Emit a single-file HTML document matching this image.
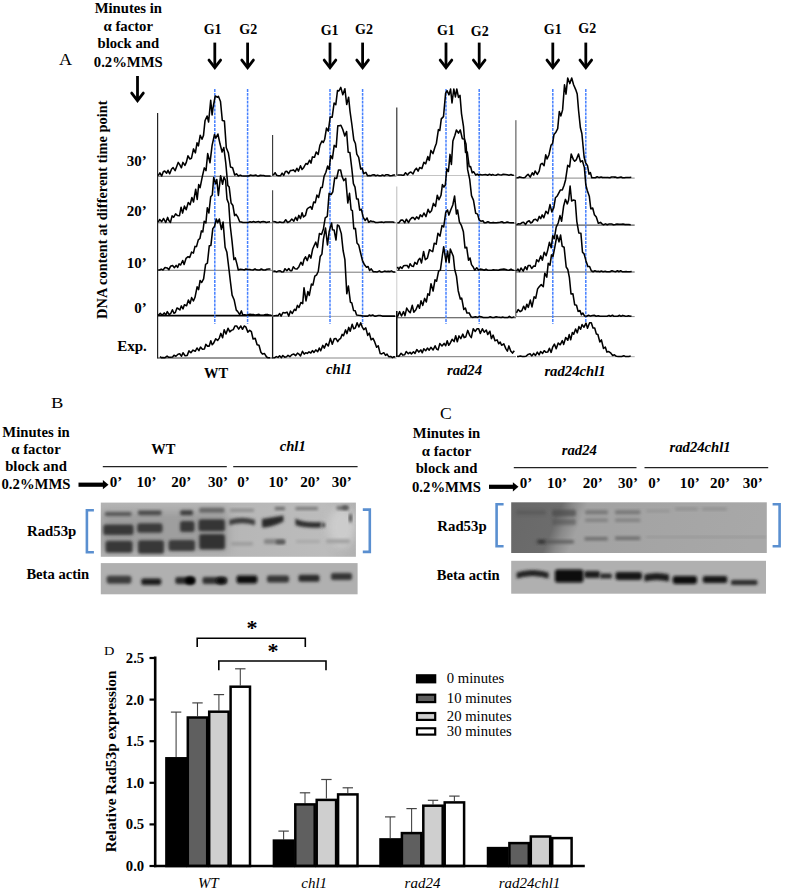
<!DOCTYPE html>
<html><head><meta charset="utf-8"><style>
html,body{margin:0;padding:0;background:#fff;}
body{width:786px;height:892px;overflow:hidden;position:relative;}
svg{position:absolute;left:0;top:0;}
text{font-family:"Liberation Serif", serif;fill:#000;}
</style></head><body>
<svg width="786" height="892" viewBox="0 0 786 892">
<defs>
<filter id="bl1" x="-20%" y="-50%" width="140%" height="200%"><feGaussianBlur stdDeviation="1.7"/></filter>
<filter id="bl2" x="-20%" y="-50%" width="140%" height="200%"><feGaussianBlur stdDeviation="0.8"/></filter>
<filter id="bl3" x="-30%" y="-80%" width="160%" height="260%"><feGaussianBlur stdDeviation="4"/></filter>
</defs>
<line x1="157.6" y1="176.3" x2="272.5" y2="176.3" stroke="#6a6a6a" stroke-width="1.0"/>
<line x1="157.6" y1="222.8" x2="272.5" y2="222.8" stroke="#6a6a6a" stroke-width="1.0"/>
<line x1="157.6" y1="270.3" x2="272.5" y2="270.3" stroke="#777" stroke-width="1.0"/>
<line x1="157.6" y1="315.6" x2="272.5" y2="315.6" stroke="#000" stroke-width="1.7"/>
<line x1="157.6" y1="358.0" x2="272.5" y2="358.0" stroke="#333" stroke-width="1.1"/>
<line x1="272.6" y1="176.1" x2="396.5" y2="176.1" stroke="#666" stroke-width="1.0"/>
<line x1="272.6" y1="222.8" x2="396.5" y2="222.8" stroke="#666" stroke-width="1.0"/>
<line x1="272.6" y1="272.2" x2="396.5" y2="272.2" stroke="#777" stroke-width="1.0"/>
<line x1="272.6" y1="316.4" x2="396.5" y2="316.4" stroke="#aaa" stroke-width="1.0"/>
<line x1="272.6" y1="358.0" x2="396.5" y2="358.0" stroke="#888" stroke-width="1.0"/>
<line x1="396.8" y1="175.5" x2="516.0" y2="175.5" stroke="#c4c4c4" stroke-width="1.0"/>
<line x1="396.8" y1="223.1" x2="516.0" y2="223.1" stroke="#666" stroke-width="1.0"/>
<line x1="396.8" y1="270.5" x2="516.0" y2="270.5" stroke="#444" stroke-width="1.0"/>
<line x1="396.8" y1="317.7" x2="516.0" y2="317.7" stroke="#444" stroke-width="1.1"/>
<line x1="396.8" y1="356.7" x2="516.0" y2="356.7" stroke="#777" stroke-width="1.0"/>
<line x1="515.9" y1="178.1" x2="634.7" y2="178.1" stroke="#888" stroke-width="1.0"/>
<line x1="515.9" y1="225.1" x2="634.7" y2="225.1" stroke="#333" stroke-width="1.0"/>
<line x1="515.9" y1="272.0" x2="634.7" y2="272.0" stroke="#555" stroke-width="1.0"/>
<line x1="515.9" y1="316.6" x2="634.7" y2="316.6" stroke="#888" stroke-width="1.0"/>
<line x1="517.0" y1="356.7" x2="634.7" y2="356.7" stroke="#aaa" stroke-width="1.0"/>
<line x1="157.6" y1="113" x2="157.6" y2="358.6" stroke="#222" stroke-width="1.2"/>
<line x1="272.6" y1="135.0" x2="272.6" y2="176.1" stroke="#333" stroke-width="1.1"/>
<line x1="272.6" y1="190.3" x2="272.6" y2="222.8" stroke="#444" stroke-width="1.1"/>
<line x1="272.6" y1="222.8" x2="272.6" y2="272.2" stroke="#666" stroke-width="1.0"/>
<line x1="272.6" y1="271.5" x2="272.6" y2="316.4" stroke="#555" stroke-width="1.0"/>
<line x1="272.6" y1="316.4" x2="272.6" y2="358.6" stroke="#111" stroke-width="1.3"/>
<line x1="396.8" y1="107.5" x2="396.8" y2="175.5" stroke="#222" stroke-width="1.1"/>
<line x1="396.8" y1="186.5" x2="396.8" y2="223.1" stroke="#bbb" stroke-width="1.0"/>
<line x1="396.8" y1="223.1" x2="396.8" y2="270.5" stroke="#999" stroke-width="1.0"/>
<line x1="396.8" y1="273.0" x2="396.8" y2="311.0" stroke="#ccc" stroke-width="1.0"/>
<line x1="396.8" y1="311.0" x2="396.8" y2="357.0" stroke="#000" stroke-width="1.5"/>
<line x1="515.9" y1="120.2" x2="515.9" y2="178.1" stroke="#444" stroke-width="1.0"/>
<line x1="515.9" y1="178.1" x2="515.9" y2="225.1" stroke="#333" stroke-width="1.0"/>
<line x1="515.9" y1="225.1" x2="515.9" y2="272.0" stroke="#333" stroke-width="1.0"/>
<line x1="515.9" y1="272.0" x2="515.9" y2="316.6" stroke="#333" stroke-width="1.0"/>
<line x1="214.8" y1="89" x2="214.8" y2="323.7" stroke="#4680ff" stroke-width="1.5" stroke-dasharray="2.9 1.0"/>
<line x1="247.6" y1="89" x2="247.6" y2="323.7" stroke="#4680ff" stroke-width="1.5" stroke-dasharray="2.9 1.0"/>
<line x1="330.0" y1="89" x2="330.0" y2="323.7" stroke="#4680ff" stroke-width="1.5" stroke-dasharray="2.9 1.0"/>
<line x1="362.6" y1="89" x2="362.6" y2="323.7" stroke="#4680ff" stroke-width="1.5" stroke-dasharray="2.9 1.0"/>
<line x1="446.0" y1="89" x2="446.0" y2="323.7" stroke="#4680ff" stroke-width="1.5" stroke-dasharray="2.9 1.0"/>
<line x1="479.2" y1="89" x2="479.2" y2="323.7" stroke="#4680ff" stroke-width="1.5" stroke-dasharray="2.9 1.0"/>
<line x1="552.8" y1="89" x2="552.8" y2="323.7" stroke="#4680ff" stroke-width="1.5" stroke-dasharray="2.9 1.0"/>
<line x1="585.8" y1="89" x2="585.8" y2="323.7" stroke="#4680ff" stroke-width="1.5" stroke-dasharray="2.9 1.0"/>
<path d="M158.2 175.6 L159.9 172.8 L161.7 176.0 L163.3 171.7 L164.7 171.0 L166.6 173.2 L168.0 170.3 L169.7 173.8 L171.6 169.0 L173.1 167.6 L175.1 170.6 L176.5 167.0 L178.2 162.4 L179.7 164.7 L181.4 167.8 L182.9 162.4 L184.9 165.4 L186.3 162.4 L188.0 155.8 L189.9 159.0 L191.5 158.2 L193.5 148.9 L195.4 152.9 L197.0 142.8 L198.4 145.9 L200.2 135.3 L202.0 139.2 L203.5 135.4 L205.0 120.8 L207.1 116.0 L208.6 122.0 L210.7 100.3 L212.1 115.0 L213.0 108.0 L215.2 96.0 L217.6 97.2 L218.4 96.3 L220.5 101.5 L222.3 120.4 L224.4 120.9 L226.3 147.7 L228.4 153.0 L230.5 167.0 L232.6 167.8 L234.7 175.0 L236.5 173.8 L238.3 176.0 L240.3 175.1 L241.7 175.7 L243.6 175.9 L245.2 176.0 L247.1 176.0 L248.6 176.0 L250.3 175.1 L252.3 175.4 L253.9 175.6 L256.0 175.0 L257.3 176.0 L258.7 176.0 L260.3 175.3 L262.2 175.4 L263.7 175.6 L265.3 176.0 L267.0 176.0 L268.9 176.0 L270.6 176.0" fill="none" stroke="#000" stroke-width="1.55" stroke-linejoin="round"/>
<path d="M158.2 222.1 L159.7 219.5 L161.7 221.6 L163.6 218.5 L165.7 222.5 L167.6 217.4 L168.9 220.6 L170.4 222.5 L172.1 215.9 L173.6 217.3 L175.6 213.9 L177.3 215.4 L179.5 215.7 L181.1 207.2 L182.6 213.1 L184.4 206.1 L186.2 209.7 L188.2 202.6 L190.1 204.7 L191.9 197.5 L193.5 202.0 L195.7 189.2 L197.2 199.5 L198.7 184.6 L200.1 187.7 L202.3 176.6 L204.3 167.9 L206.0 170.7 L207.7 153.6 L210.0 162.7 L212.1 145.4 L214.5 134.5 L215.8 138.1 L217.9 134.0 L220.0 143.8 L222.1 152.1 L223.8 147.5 L225.7 162.3 L227.8 185.4 L229.2 187.1 L231.1 203.0 L232.9 205.5 L234.6 215.6 L236.0 214.3 L237.9 217.2 L239.7 221.7 L241.3 222.0 L242.9 222.5 L244.7 222.5 L246.7 222.5 L248.2 222.5 L250.1 221.7 L251.7 222.2 L253.5 221.5 L255.4 222.3 L257.3 221.8 L258.8 221.6 L260.3 222.5 L261.7 221.7 L263.3 221.5 L264.7 221.7 L266.3 222.5 L268.2 221.9 L270.0 221.8" fill="none" stroke="#000" stroke-width="1.55" stroke-linejoin="round"/>
<path d="M158.2 270.0 L159.7 270.0 L161.2 269.1 L163.0 270.0 L165.0 267.6 L167.1 267.9 L168.9 269.6 L170.5 266.3 L172.6 265.5 L174.4 267.7 L176.1 265.4 L177.6 267.4 L179.1 263.9 L180.6 265.0 L182.7 260.5 L184.1 264.4 L186.0 258.4 L188.1 256.7 L189.7 257.5 L191.6 252.1 L193.4 253.1 L195.0 246.4 L196.5 246.6 L198.3 239.9 L199.9 238.5 L201.4 230.9 L202.8 232.0 L204.2 221.2 L205.9 223.0 L207.3 207.7 L208.9 212.9 L210.7 196.7 L212.3 195.0 L213.7 177.6 L215.7 183.7 L216.8 179.5 L218.4 195.5 L220.6 175.7 L222.6 184.2 L224.0 177.2 L225.6 180.5 L227.0 199.1 L228.7 203.5 L230.2 225.5 L232.0 240.9 L233.9 259.6 L235.3 257.9 L236.9 263.9 L238.3 270.0 L240.3 269.3 L242.3 269.6 L244.5 269.9 L245.8 269.0 L247.9 269.6 L249.6 269.4 L251.1 269.8 L253.0 270.0 L255.0 268.9 L256.4 269.8 L258.1 270.0 L259.7 270.0 L261.3 269.0 L263.3 270.0 L265.3 270.0 L266.9 269.3 L268.7 269.1 L270.5 268.9" fill="none" stroke="#000" stroke-width="1.55" stroke-linejoin="round"/>
<path d="M158.2 315.3 L160.3 313.4 L162.2 315.2 L164.2 312.9 L165.8 315.0 L167.3 311.6 L169.2 314.7 L170.7 313.5 L172.4 309.8 L173.9 313.2 L175.3 312.5 L177.0 308.0 L178.5 308.8 L179.9 309.9 L181.3 305.9 L183.0 308.9 L184.4 304.8 L186.6 305.7 L188.4 300.0 L190.1 303.6 L191.6 297.6 L193.4 301.0 L195.0 297.3 L197.1 286.8 L198.6 289.6 L200.1 280.5 L201.7 282.5 L203.6 278.8 L205.6 264.3 L207.4 263.2 L209.3 245.7 L210.9 245.4 L212.8 228.6 L214.6 226.2 L216.3 219.0 L217.7 222.7 L219.3 219.0 L221.4 229.4 L223.1 222.0 L225.1 247.3 L226.9 252.3 L229.1 270.4 L230.5 282.4 L232.1 295.1 L234.1 299.7 L236.3 310.1 L237.6 311.4 L239.7 314.6 L241.4 310.9 L242.9 315.3 L244.7 314.8 L246.5 315.3 L248.2 314.8 L250.0 314.3 L251.5 314.5 L253.4 314.5 L255.3 315.3 L257.0 314.7 L259.0 314.3 L260.6 315.3 L262.5 315.3 L264.0 315.1 L265.8 314.6 L267.4 314.4 L269.6 315.3 L271.1 315.3" fill="none" stroke="#000" stroke-width="1.55" stroke-linejoin="round"/>
<path d="M160.0 356.6 L161.4 357.7 L162.9 357.4 L165.0 357.7 L167.1 356.1 L168.8 357.3 L170.6 357.2 L172.6 356.9 L174.0 355.2 L175.9 356.2 L178.0 354.2 L179.7 353.8 L181.5 356.2 L183.0 352.7 L185.1 355.8 L187.2 355.4 L189.0 350.9 L190.9 352.7 L193.0 350.1 L195.2 351.3 L197.0 348.0 L198.9 350.6 L200.5 347.1 L202.4 349.3 L204.4 349.0 L205.8 344.4 L207.5 346.1 L209.2 346.1 L210.8 340.7 L212.2 344.7 L213.6 343.2 L215.7 338.8 L217.7 340.4 L219.3 338.1 L220.8 333.4 L222.6 337.8 L224.2 329.7 L226.0 334.0 L228.0 328.2 L229.8 331.9 L231.4 330.4 L233.3 329.6 L234.9 326.0 L236.7 326.0 L238.7 329.1 L240.8 326.0 L242.5 329.3 L244.2 326.0 L245.8 326.9 L247.9 332.1 L249.7 330.3 L251.4 331.7 L253.1 339.0 L255.2 338.2 L257.1 344.7 L259.0 345.2 L260.9 352.2 L262.4 354.1 L264.5 353.6 L266.6 357.0 L268.1 357.7 L270.1 357.7" fill="none" stroke="#000" stroke-width="1.55" stroke-linejoin="round"/>
<path d="M273.2 175.3 L275.1 172.7 L276.7 175.3 L278.3 175.8 L280.4 175.8 L282.1 173.1 L283.7 175.4 L285.4 171.5 L286.8 171.3 L288.6 173.6 L290.3 170.6 L291.7 170.5 L293.4 169.9 L295.2 171.7 L296.9 168.3 L298.5 171.1 L300.5 165.8 L302.0 169.5 L303.8 167.4 L305.9 163.5 L307.5 164.4 L309.6 160.2 L311.0 163.2 L312.4 156.9 L314.5 157.3 L316.2 152.0 L318.2 154.4 L319.9 145.3 L321.9 141.0 L323.3 142.5 L324.7 139.2 L326.5 128.1 L328.3 131.1 L330.2 117.1 L332.2 117.1 L334.1 103.0 L335.8 104.6 L337.5 90.6 L338.9 91.0 L340.8 87.4 L342.8 94.8 L344.9 88.8 L346.7 104.5 L348.6 97.2 L350.0 111.1 L352.0 125.5 L353.8 139.9 L355.4 143.5 L356.8 154.2 L358.7 157.3 L360.7 169.1 L362.1 168.2 L363.8 173.7 L365.9 172.4 L367.6 175.8 L369.3 175.6 L370.7 175.8 L372.1 175.1 L374.0 174.8 L375.8 175.8 L377.6 175.1 L379.3 175.8 L380.9 175.8 L382.3 175.0 L384.4 175.8 L386.1 174.7 L387.8 174.7 L390.0 175.8 L392.0 175.5 L393.7 175.0 L395.1 175.0" fill="none" stroke="#000" stroke-width="1.55" stroke-linejoin="round"/>
<path d="M273.2 221.6 L275.1 221.7 L276.7 222.5 L278.4 222.5 L279.8 221.9 L281.9 222.5 L283.7 222.5 L285.7 219.7 L287.7 222.5 L289.7 221.4 L291.8 219.0 L293.8 221.1 L295.6 217.2 L297.2 220.5 L298.8 215.4 L300.5 218.6 L302.1 212.7 L303.5 216.9 L305.5 215.3 L307.0 209.3 L308.5 207.8 L310.6 206.6 L312.0 209.3 L313.7 202.0 L315.3 202.7 L316.9 195.1 L318.6 197.5 L320.8 187.6 L322.3 187.4 L324.1 176.2 L325.9 172.2 L327.6 166.1 L329.2 169.5 L330.7 155.6 L332.4 158.7 L334.2 145.4 L336.2 147.1 L337.8 125.7 L339.5 125.8 L340.9 125.2 L342.7 129.3 L344.8 135.9 L346.6 131.5 L348.2 152.2 L349.9 152.6 L351.9 169.4 L353.4 183.6 L355.0 187.1 L356.6 199.0 L358.2 199.1 L359.7 210.1 L361.4 209.3 L363.2 217.3 L365.2 220.5 L367.0 218.0 L368.7 222.3 L370.7 220.9 L372.2 221.5 L373.9 221.6 L375.5 222.5 L377.6 222.5 L379.7 222.2 L381.7 222.0 L383.8 222.5 L385.2 222.1 L387.3 222.0 L389.4 221.9 L390.9 222.0 L392.8 222.0 L394.5 222.5" fill="none" stroke="#000" stroke-width="1.55" stroke-linejoin="round"/>
<path d="M273.2 271.3 L275.0 271.1 L276.6 271.9 L278.1 271.1 L280.2 270.8 L281.7 271.9 L283.5 271.8 L285.0 268.7 L286.9 270.8 L288.8 268.5 L290.2 270.7 L291.8 270.7 L293.3 266.8 L295.1 268.7 L297.0 269.1 L298.8 266.9 L300.9 262.2 L302.6 265.2 L304.0 259.5 L305.5 256.8 L307.3 260.6 L309.2 254.7 L310.9 258.1 L312.6 249.3 L314.3 245.3 L315.8 242.1 L317.4 247.4 L319.4 233.5 L321.5 234.5 L323.4 229.0 L325.2 217.9 L327.3 216.3 L329.1 193.4 L331.2 194.5 L332.8 191.8 L334.7 177.9 L336.7 178.4 L338.5 170.0 L340.6 170.0 L342.0 176.4 L343.8 180.6 L345.7 178.4 L347.8 203.0 L349.5 193.3 L351.1 209.8 L352.4 210.7 L353.8 228.8 L355.4 228.4 L357.0 243.0 L358.7 244.9 L360.3 251.8 L362.4 260.3 L364.5 264.8 L366.5 267.3 L368.1 266.5 L369.6 270.5 L371.2 268.9 L373.3 271.8 L375.2 271.7 L377.3 271.9 L379.4 270.9 L380.9 271.9 L382.5 271.9 L384.6 271.1 L386.2 271.5 L388.3 271.3 L389.8 271.6 L391.3 270.9 L393.3 271.9 L395.2 271.9" fill="none" stroke="#000" stroke-width="1.55" stroke-linejoin="round"/>
<path d="M273.2 316.1 L274.9 315.7 L276.5 315.4 L278.0 315.8 L279.7 313.5 L281.1 316.1 L283.0 312.5 L285.0 313.0 L287.0 312.1 L288.8 316.1 L290.5 311.1 L292.3 313.5 L294.4 309.3 L295.8 310.4 L297.4 305.4 L299.0 307.5 L300.9 302.5 L302.7 303.6 L304.0 287.7 L306.0 300.9 L307.9 291.5 L309.3 295.4 L311.4 284.1 L312.9 285.1 L314.8 276.2 L316.7 274.8 L318.3 271.2 L320.2 256.5 L321.9 254.1 L323.4 239.4 L325.5 228.0 L327.5 245.0 L329.2 231.4 L331.6 223.0 L332.5 229.8 L334.1 229.9 L336.0 240.0 L337.4 225.0 L339.0 226.0 L341.3 233.6 L343.1 250.5 L344.9 259.6 L346.8 293.8 L348.4 286.0 L350.4 302.2 L351.8 302.9 L353.6 310.6 L355.2 310.8 L356.6 315.0 L358.5 315.3 L360.6 315.5 L362.6 315.9 L364.3 316.1 L366.4 316.1 L367.8 316.1 L369.2 315.0 L370.8 315.8 L372.7 315.0 L374.6 316.1 L376.3 316.1 L378.3 315.6 L380.2 315.5 L382.3 316.1 L383.9 316.1 L385.4 316.1 L387.5 316.1 L388.9 316.1 L390.7 316.1 L392.3 316.1 L393.8 316.1 L395.2 316.1" fill="none" stroke="#000" stroke-width="1.55" stroke-linejoin="round"/>
<path d="M273.2 357.7 L274.8 357.7 L276.3 356.6 L278.0 357.4 L279.6 355.8 L281.4 357.7 L282.8 355.5 L284.7 357.2 L286.6 356.7 L288.0 355.3 L289.9 356.7 L291.8 354.7 L293.9 354.1 L295.7 355.6 L297.5 353.1 L298.9 354.1 L300.5 356.0 L302.5 351.3 L304.2 354.1 L305.7 352.7 L307.3 353.4 L309.0 351.9 L310.8 353.0 L312.4 350.6 L313.9 352.5 L315.8 349.9 L317.7 351.8 L319.3 348.0 L320.7 350.8 L322.8 345.4 L324.3 348.1 L326.2 343.5 L328.3 346.0 L330.4 338.4 L332.3 344.2 L334.2 338.8 L336.0 338.5 L337.7 341.6 L339.2 339.4 L340.7 338.3 L342.1 334.4 L343.5 335.8 L345.5 329.9 L347.0 333.6 L348.7 327.4 L350.2 331.3 L352.2 324.3 L353.7 328.8 L355.3 328.0 L357.1 322.7 L358.9 327.0 L360.7 322.9 L362.3 327.1 L363.8 329.6 L365.8 327.9 L367.7 335.4 L369.3 333.1 L371.1 339.8 L373.0 338.4 L374.6 341.7 L376.6 347.2 L378.2 345.7 L380.2 353.6 L381.7 353.9 L383.8 352.7 L385.5 355.4 L387.0 354.1 L388.7 356.7 L390.7 356.4 L392.5 357.7 L393.9 356.7 L395.3 356.9" fill="none" stroke="#000" stroke-width="1.55" stroke-linejoin="round"/>
<path d="M397.4 174.9 L399.4 175.1 L401.1 174.9 L402.4 175.2 L403.8 175.2 L405.5 172.7 L407.6 174.9 L409.3 172.7 L410.9 172.0 L413.0 174.0 L414.9 169.9 L416.4 168.2 L418.1 171.1 L419.7 167.5 L421.9 168.6 L423.9 162.3 L425.7 163.8 L427.8 156.6 L429.3 160.4 L430.9 150.4 L433.0 153.6 L434.9 147.2 L436.4 143.2 L438.4 129.6 L439.8 130.5 L441.3 118.9 L443.5 116.6 L445.6 93.2 L447.1 90.7 L449.0 94.9 L450.6 89.0 L452.0 103.0 L453.8 89.0 L455.4 96.9 L456.8 89.0 L458.5 97.4 L460.0 95.4 L461.5 113.6 L463.5 126.6 L465.5 152.5 L467.3 152.0 L469.2 166.6 L470.6 166.6 L472.2 172.8 L473.6 171.7 L475.8 175.2 L477.2 174.1 L478.6 175.2 L480.3 174.6 L482.0 174.9 L483.9 174.7 L485.7 174.6 L487.6 175.2 L489.5 174.2 L491.2 175.2 L492.5 174.5 L494.0 175.0 L496.1 175.2 L498.0 174.3 L499.5 174.7 L501.6 174.9 L503.2 174.3 L505.4 174.5 L507.3 174.8 L509.0 175.2 L511.0 174.5 L512.6 175.2 L513.9 175.2" fill="none" stroke="#000" stroke-width="1.55" stroke-linejoin="round"/>
<path d="M397.4 222.8 L398.9 222.8 L401.0 220.1 L402.8 220.1 L404.7 222.8 L406.4 219.2 L408.5 222.5 L410.4 219.2 L412.0 217.6 L413.5 217.6 L414.9 219.6 L416.6 216.9 L418.7 218.9 L420.3 214.9 L422.2 216.7 L423.9 213.0 L426.0 216.6 L428.1 209.3 L429.7 212.7 L431.5 210.8 L433.4 203.4 L435.5 206.4 L437.3 195.2 L439.0 199.7 L441.0 195.3 L442.4 184.6 L443.9 187.1 L445.3 185.0 L446.8 168.9 L448.4 171.5 L450.0 154.4 L451.4 164.4 L452.9 140.9 L454.9 135.2 L456.4 130.0 L458.5 133.1 L460.3 130.0 L462.3 138.7 L464.4 138.9 L466.0 143.9 L467.6 169.4 L469.7 179.3 L471.5 195.6 L473.5 200.4 L475.7 213.3 L477.6 214.1 L479.1 219.9 L480.9 221.2 L482.9 220.8 L484.3 222.8 L485.8 222.8 L487.9 221.7 L490.0 222.8 L491.6 222.8 L493.2 222.4 L494.7 222.8 L496.3 222.7 L498.4 222.4 L499.9 222.2 L501.9 221.8 L503.7 222.8 L505.7 222.6 L507.2 222.1 L509.1 222.5 L511.0 222.8 L512.5 222.8 L514.0 222.8" fill="none" stroke="#000" stroke-width="1.55" stroke-linejoin="round"/>
<path d="M397.4 266.8 L398.8 269.4 L400.3 266.9 L402.0 268.4 L403.7 265.7 L405.1 265.5 L407.0 265.4 L408.6 267.9 L410.1 263.7 L411.8 266.1 L413.4 266.4 L414.8 262.4 L416.9 264.3 L418.5 259.7 L419.9 258.3 L421.5 262.9 L423.6 251.5 L425.3 259.7 L427.4 258.1 L429.5 249.7 L431.2 250.9 L432.7 251.6 L434.2 243.3 L436.2 244.1 L437.9 233.3 L440.0 236.1 L442.0 225.6 L443.7 227.0 L445.7 212.5 L447.5 210.0 L448.9 215.1 L450.7 210.0 L452.8 205.0 L454.6 196.0 L456.4 214.0 L457.6 210.0 L459.4 221.9 L461.5 225.7 L463.4 231.8 L465.0 247.9 L466.7 247.3 L468.5 260.2 L470.0 258.0 L471.5 264.6 L473.2 267.0 L474.7 270.2 L476.7 267.7 L478.8 270.2 L480.4 269.1 L482.5 269.4 L484.2 270.2 L486.0 269.2 L487.6 270.2 L489.6 270.2 L491.7 270.2 L493.2 269.7 L495.1 270.0 L496.7 269.9 L498.3 270.2 L500.2 269.5 L502.2 269.3 L503.9 269.1 L505.9 269.5 L507.3 270.0 L509.0 270.2 L511.0 269.1 L512.6 270.2 L514.2 270.2" fill="none" stroke="#000" stroke-width="1.55" stroke-linejoin="round"/>
<path d="M397.4 316.9 L399.6 311.6 L401.5 316.0 L403.5 311.6 L405.0 315.7 L406.7 308.1 L408.6 311.1 L410.2 312.8 L412.3 305.3 L413.8 312.2 L415.9 309.8 L418.0 304.7 L419.5 308.3 L421.0 300.8 L422.8 305.4 L424.6 298.4 L426.3 302.0 L427.8 293.8 L429.4 295.2 L431.0 283.7 L433.1 291.0 L435.0 279.8 L436.6 281.2 L438.6 271.1 L440.4 270.0 L442.4 255.4 L443.7 246.7 L446.0 262.0 L447.6 251.0 L449.1 262.6 L450.3 249.0 L453.3 256.2 L454.7 269.5 L456.5 276.3 L458.2 290.7 L460.3 299.0 L461.7 298.1 L463.8 309.5 L465.4 308.0 L466.9 313.0 L469.1 312.9 L471.1 316.8 L472.6 317.4 L474.1 317.0 L475.7 316.7 L477.5 317.4 L479.6 316.4 L481.2 316.8 L483.4 317.4 L485.2 317.4 L486.7 317.4 L488.5 317.4 L490.2 316.7 L492.3 317.4 L494.0 317.4 L496.1 316.7 L497.6 317.1 L499.3 317.2 L501.1 317.4 L502.6 317.0 L504.5 317.4 L506.5 317.4 L508.0 317.4 L509.4 316.3 L511.0 317.4 L512.5 317.4 L514.5 316.6" fill="none" stroke="#000" stroke-width="1.55" stroke-linejoin="round"/>
<path d="M397.4 355.8 L398.9 356.4 L401.1 353.3 L402.9 355.1 L404.7 354.8 L406.2 351.5 L408.3 353.7 L410.0 352.3 L411.4 353.9 L413.5 351.7 L415.0 353.4 L416.8 349.6 L418.8 352.1 L420.8 349.9 L422.3 352.8 L423.8 348.8 L425.7 350.8 L427.4 348.1 L429.2 350.2 L430.9 347.3 L433.1 350.0 L435.1 345.8 L436.6 349.0 L438.1 349.9 L439.8 343.6 L442.0 346.0 L444.1 343.4 L445.7 345.7 L447.2 340.7 L448.7 345.2 L450.2 343.2 L452.1 339.3 L454.1 341.6 L455.7 335.7 L457.3 341.8 L459.0 335.9 L460.8 338.6 L462.8 334.1 L464.2 337.6 L465.7 337.1 L467.7 330.4 L469.8 335.6 L471.3 337.6 L473.2 328.8 L475.3 331.4 L477.1 328.8 L478.7 328.8 L480.3 333.4 L482.4 328.8 L484.2 332.2 L486.3 330.0 L487.7 334.5 L489.9 331.2 L491.4 338.6 L493.1 335.1 L495.0 340.7 L497.1 339.9 L498.7 343.7 L500.2 342.1 L501.6 345.3 L503.8 343.8 L505.8 348.6 L507.4 351.1 L508.9 345.9 L510.7 351.0 L512.5 353.1 L514.3 350.8" fill="none" stroke="#000" stroke-width="1.55" stroke-linejoin="round"/>
<path d="M516.5 177.8 L517.9 177.8 L519.7 176.9 L521.7 177.6 L523.5 177.8 L524.9 177.5 L526.3 175.9 L528.1 174.2 L530.2 177.1 L532.3 172.8 L533.7 175.0 L535.1 171.0 L537.3 174.4 L539.2 171.2 L540.6 164.3 L542.1 163.3 L544.1 165.7 L545.7 154.8 L547.1 159.0 L549.0 154.7 L551.0 145.3 L552.6 143.4 L554.0 134.4 L555.9 132.2 L557.7 128.6 L559.3 111.6 L560.9 115.9 L562.6 109.9 L564.5 84.8 L566.0 94.1 L567.7 78.0 L569.8 83.6 L571.7 78.0 L573.6 84.8 L575.7 89.6 L577.2 93.9 L578.6 110.7 L580.4 127.8 L581.9 133.7 L584.1 157.0 L585.6 162.7 L587.5 165.6 L589.0 174.2 L590.4 172.6 L591.8 177.8 L593.2 177.8 L595.3 177.8 L597.2 176.8 L599.1 177.6 L601.1 177.0 L602.7 177.6 L604.4 177.4 L606.4 177.6 L607.9 177.4 L609.8 177.8 L611.6 177.0 L613.8 177.1 L615.2 177.1 L617.2 177.8 L619.0 177.4 L621.0 177.0 L622.6 177.8 L624.5 177.8 L625.8 177.6 L627.6 177.4 L629.5 177.5 L631.3 177.3" fill="none" stroke="#000" stroke-width="1.55" stroke-linejoin="round"/>
<path d="M516.5 224.6 L518.5 223.8 L520.3 223.9 L522.3 222.5 L523.6 222.3 L525.5 224.5 L527.3 221.8 L529.2 220.8 L530.7 223.0 L532.2 222.2 L533.8 219.8 L535.6 219.2 L537.5 221.0 L539.3 216.4 L540.7 218.7 L542.2 214.9 L543.8 217.8 L545.9 211.2 L548.0 213.7 L550.0 204.6 L551.8 211.9 L553.8 207.7 L555.4 197.8 L557.0 196.3 L558.6 193.3 L560.3 190.1 L562.3 190.0 L564.1 185.2 L565.6 179.7 L567.7 165.3 L569.6 166.9 L571.2 154.0 L573.3 159.4 L574.7 161.2 L576.4 159.6 L578.5 154.0 L580.5 161.9 L582.4 160.7 L584.4 167.6 L585.8 184.8 L587.2 190.3 L589.3 196.2 L590.8 208.8 L592.7 208.0 L594.4 214.7 L596.3 217.0 L598.3 223.2 L600.5 222.4 L602.0 223.9 L603.5 224.8 L605.5 223.9 L607.3 224.8 L609.3 223.9 L611.5 223.9 L613.4 224.8 L615.1 224.5 L617.0 224.1 L619.1 224.2 L621.2 224.3 L623.0 224.1 L625.1 224.6 L626.6 224.4 L628.7 224.6 L630.7 224.8" fill="none" stroke="#000" stroke-width="1.55" stroke-linejoin="round"/>
<path d="M516.5 271.0 L518.0 269.1 L519.5 271.5 L521.0 268.0 L523.2 271.1 L525.3 266.7 L526.9 269.7 L528.2 265.6 L530.0 265.4 L531.7 268.5 L533.7 266.1 L535.2 266.3 L536.7 259.7 L538.6 261.7 L540.7 255.9 L542.4 260.2 L544.2 252.2 L546.1 255.7 L547.6 250.6 L549.4 242.3 L551.2 247.7 L552.8 235.7 L554.3 238.6 L556.2 227.1 L558.2 223.0 L560.0 215.6 L561.6 221.2 L563.6 206.3 L565.4 199.4 L567.3 203.9 L568.6 200.0 L570.1 186.0 L571.6 201.0 L573.5 200.0 L575.2 200.4 L576.8 221.3 L578.8 232.9 L580.9 233.2 L582.5 252.3 L584.1 253.9 L586.0 260.9 L587.9 266.6 L589.6 266.5 L591.3 270.7 L593.1 271.7 L594.9 270.7 L596.7 271.5 L598.3 271.2 L599.7 271.7 L601.3 271.0 L603.1 271.7 L605.2 271.2 L606.7 271.7 L608.2 271.7 L609.8 271.7 L611.9 270.7 L613.5 271.3 L615.5 271.7 L617.5 270.8 L619.1 271.7 L620.6 270.7 L622.2 271.7 L624.0 271.7 L626.1 271.5 L627.5 271.7 L629.6 271.7 L631.7 271.5" fill="none" stroke="#000" stroke-width="1.55" stroke-linejoin="round"/>
<path d="M516.5 312.8 L518.1 309.5 L520.2 311.6 L521.9 310.5 L523.6 306.2 L525.3 309.6 L526.8 304.2 L528.3 307.4 L530.3 300.1 L532.0 306.9 L534.1 296.8 L535.7 298.3 L537.6 288.9 L539.2 286.7 L541.2 284.6 L543.3 286.7 L544.8 273.2 L546.8 277.2 L548.2 263.3 L550.0 265.1 L551.5 254.9 L553.0 256.4 L554.9 246.6 L557.0 235.0 L559.0 241.9 L560.6 235.0 L562.2 246.3 L564.1 247.2 L566.2 267.0 L567.8 269.5 L569.4 277.6 L571.0 293.9 L572.9 293.7 L574.7 304.8 L576.5 305.2 L578.1 311.4 L580.0 310.5 L581.4 314.8 L582.9 313.0 L584.6 316.1 L586.6 316.3 L588.6 315.3 L590.5 316.1 L592.5 315.5 L594.2 315.3 L596.2 316.3 L598.2 315.7 L600.0 316.3 L601.6 316.3 L603.7 316.3 L605.4 316.3 L607.1 316.3 L609.0 315.4 L610.4 316.3 L612.5 315.2 L613.9 316.3 L615.8 316.3 L617.7 316.3 L619.6 315.3 L621.0 316.3 L622.5 315.4 L624.0 315.8 L625.5 316.3 L627.0 316.3 L628.5 315.7 L630.1 316.3 L631.5 316.1" fill="none" stroke="#000" stroke-width="1.55" stroke-linejoin="round"/>
<path d="M517.0 356.4 L518.5 356.4 L520.3 356.1 L522.3 356.4 L524.1 356.4 L526.0 356.3 L528.1 354.4 L530.1 353.8 L531.7 355.9 L533.7 353.4 L535.5 355.5 L537.3 352.1 L539.1 354.9 L540.6 351.5 L542.6 353.4 L544.2 350.7 L546.0 352.3 L547.7 352.1 L549.4 348.2 L551.1 352.4 L552.8 346.8 L554.4 344.1 L556.2 348.7 L558.2 343.0 L560.2 344.8 L562.3 340.6 L563.7 344.4 L565.7 337.5 L567.8 340.3 L569.2 334.6 L570.7 339.8 L572.3 332.6 L573.7 334.3 L575.6 329.0 L577.3 332.9 L578.9 326.6 L580.6 329.3 L582.1 324.6 L584.0 327.2 L586.0 323.1 L587.5 328.3 L589.6 322.7 L591.3 322.7 L593.0 327.9 L594.7 328.0 L596.4 334.1 L597.9 334.5 L599.8 341.9 L601.4 339.9 L603.5 348.5 L605.3 347.1 L606.9 352.1 L608.8 351.6 L610.9 353.2 L612.7 355.4 L614.4 354.8 L616.4 356.3 L618.3 356.4 L620.2 356.4 L621.7 356.4 L623.8 355.8 L625.2 356.4 L627.2 356.4 L628.8 356.4 L630.7 356.0" fill="none" stroke="#000" stroke-width="1.55" stroke-linejoin="round"/>
<path d="M214.8 42.6 L214.8 65.6" fill="none" stroke="#000" stroke-width="2.8"/><path d="M209.0 60.1 L214.8 67.6 L220.6 60.1" fill="none" stroke="#000" stroke-width="2.8" stroke-linecap="round" stroke-linejoin="miter" stroke-miterlimit="10"/>
<path d="M247.6 42.6 L247.6 65.6" fill="none" stroke="#000" stroke-width="2.8"/><path d="M241.8 60.1 L247.6 67.6 L253.4 60.1" fill="none" stroke="#000" stroke-width="2.8" stroke-linecap="round" stroke-linejoin="miter" stroke-miterlimit="10"/>
<path d="M330.0 42.6 L330.0 65.6" fill="none" stroke="#000" stroke-width="2.8"/><path d="M324.2 60.1 L330.0 67.6 L335.8 60.1" fill="none" stroke="#000" stroke-width="2.8" stroke-linecap="round" stroke-linejoin="miter" stroke-miterlimit="10"/>
<path d="M362.6 42.6 L362.6 65.6" fill="none" stroke="#000" stroke-width="2.8"/><path d="M356.8 60.1 L362.6 67.6 L368.4 60.1" fill="none" stroke="#000" stroke-width="2.8" stroke-linecap="round" stroke-linejoin="miter" stroke-miterlimit="10"/>
<path d="M446.0 42.6 L446.0 65.6" fill="none" stroke="#000" stroke-width="2.8"/><path d="M440.2 60.1 L446.0 67.6 L451.8 60.1" fill="none" stroke="#000" stroke-width="2.8" stroke-linecap="round" stroke-linejoin="miter" stroke-miterlimit="10"/>
<path d="M479.2 42.6 L479.2 65.6" fill="none" stroke="#000" stroke-width="2.8"/><path d="M473.4 60.1 L479.2 67.6 L485.0 60.1" fill="none" stroke="#000" stroke-width="2.8" stroke-linecap="round" stroke-linejoin="miter" stroke-miterlimit="10"/>
<path d="M552.8 42.6 L552.8 65.6" fill="none" stroke="#000" stroke-width="2.8"/><path d="M547.0 60.1 L552.8 67.6 L558.6 60.1" fill="none" stroke="#000" stroke-width="2.8" stroke-linecap="round" stroke-linejoin="miter" stroke-miterlimit="10"/>
<path d="M585.8 42.6 L585.8 65.6" fill="none" stroke="#000" stroke-width="2.8"/><path d="M580.0 60.1 L585.8 67.6 L591.6 60.1" fill="none" stroke="#000" stroke-width="2.8" stroke-linecap="round" stroke-linejoin="miter" stroke-miterlimit="10"/>
<path d="M137.5 76.0 L137.5 98.6" fill="none" stroke="#000" stroke-width="2.8"/><path d="M131.7 93.1 L137.5 100.6 L143.3 93.1" fill="none" stroke="#000" stroke-width="2.8" stroke-linecap="round" stroke-linejoin="miter" stroke-miterlimit="10"/>
<text x="128.3" y="13.2" font-size="14.7" font-weight="bold" font-style="normal" text-anchor="middle" >Minutes in</text>
<text x="128.3" y="30.7" font-size="14.7" font-weight="bold" font-style="normal" text-anchor="middle" >α factor</text>
<text x="128.3" y="48.2" font-size="14.7" font-weight="bold" font-style="normal" text-anchor="middle" >block and</text>
<text x="128.3" y="66.5" font-size="14.7" font-weight="bold" font-style="normal" text-anchor="middle" >0.2%MMS</text>
<text transform="translate(65.4,64.8) scale(1.13,1)" font-size="16" text-anchor="middle">A</text>
<text x="212.6" y="34.4" font-size="14.0" font-weight="bold" font-style="normal" text-anchor="middle" >G1</text>
<text x="248.2" y="34.0" font-size="14.0" font-weight="bold" font-style="normal" text-anchor="middle" >G2</text>
<text x="329.6" y="34.6" font-size="14.0" font-weight="bold" font-style="normal" text-anchor="middle" >G1</text>
<text x="364.0" y="33.8" font-size="14.0" font-weight="bold" font-style="normal" text-anchor="middle" >G2</text>
<text x="445.9" y="34.8" font-size="14.0" font-weight="bold" font-style="normal" text-anchor="middle" >G1</text>
<text x="479.7" y="35.6" font-size="14.0" font-weight="bold" font-style="normal" text-anchor="middle" >G2</text>
<text x="552.8" y="33.8" font-size="14.0" font-weight="bold" font-style="normal" text-anchor="middle" >G1</text>
<text x="587.3" y="33.2" font-size="14.0" font-weight="bold" font-style="normal" text-anchor="middle" >G2</text>
<text transform="translate(107.3,209.7) rotate(-90)" font-size="14.4" font-weight="bold" text-anchor="middle">DNA content at different time point</text>
<text x="146.8" y="166.4" font-size="15.0" font-weight="bold" font-style="normal" text-anchor="end" >30’</text>
<text x="146.8" y="215.6" font-size="15.0" font-weight="bold" font-style="normal" text-anchor="end" >20’</text>
<text x="146.8" y="268.2" font-size="15.0" font-weight="bold" font-style="normal" text-anchor="end" >10’</text>
<text x="146.8" y="313.3" font-size="15.0" font-weight="bold" font-style="normal" text-anchor="end" >0’</text>
<text x="146.8" y="350.9" font-size="15.0" font-weight="bold" font-style="normal" text-anchor="end" >Exp.</text>
<text x="216.0" y="378.0" font-size="14.5" font-weight="bold" font-style="normal" text-anchor="middle" >WT</text>
<text x="339.0" y="374.0" font-size="14.7" font-weight="bold" font-style="italic" text-anchor="middle" >chl1</text>
<text x="464.5" y="374.8" font-size="14.7" font-weight="bold" font-style="italic" text-anchor="middle" >rad24</text>
<text x="575.0" y="375.6" font-size="14.7" font-weight="bold" font-style="italic" text-anchor="middle" >rad24chl1</text>
<linearGradient id="gB" x1="0" x2="1" y1="0" y2="0"><stop offset="0" stop-color="#b4b4b4"/><stop offset="0.5" stop-color="#b6b6b6"/><stop offset="0.88" stop-color="#bcbcbc"/><stop offset="1" stop-color="#b2b2b2"/></linearGradient>
<rect x="100.8" y="502.6" width="255.1" height="54.2" fill="url(#gB)"/>
<clipPath id="cB"><rect x="100.8" y="502.6" width="255.1" height="54.2"/></clipPath>
<g clip-path="url(#cB)">
<rect x="101.0" y="511.0" width="127.0" height="40.0" rx="2.5" fill="#8a8a8a" opacity="0.55" filter="url(#bl3)"/>
<ellipse cx="342.0" cy="527.0" rx="14.0" ry="20.0" fill="#cfcfcf" opacity="0.90" filter="url(#bl3)"/>
<rect x="105.0" y="511.9" width="26.4" height="4.2" rx="1.3" fill="#555555" opacity="1.00" filter="url(#bl1)"/>
<rect x="103.3" y="524.5" width="30.2" height="10.5" rx="2.5" fill="#393939" opacity="1.00" filter="url(#bl1)"/>
<rect x="105.5" y="540.8" width="27.0" height="12.0" rx="2.5" fill="#383838" opacity="1.00" filter="url(#bl1)"/>
<rect x="138.0" y="510.4" width="23.5" height="4.8" rx="1.4" fill="#4a4a4a" opacity="1.00" filter="url(#bl1)"/>
<rect x="137.2" y="523.2" width="25.3" height="9.5" rx="2.5" fill="#3a3a3a" opacity="1.00" filter="url(#bl1)"/>
<rect x="138.0" y="540.2" width="26.0" height="13.5" rx="2.5" fill="#373737" opacity="1.00" filter="url(#bl1)"/>
<rect x="180.2" y="510.3" width="12.8" height="5.0" rx="1.5" fill="#3e3e3e" opacity="1.00" filter="url(#bl1)"/>
<rect x="180.0" y="521.0" width="14.5" height="11.0" rx="2.5" fill="#393939" opacity="1.00" filter="url(#bl1)"/>
<rect x="168.6" y="540.0" width="26.4" height="11.0" rx="2.5" fill="#3a3a3a" opacity="1.00" filter="url(#bl1)"/>
<rect x="199.2" y="507.8" width="25.3" height="5.0" rx="1.5" fill="#666666" opacity="1.00" filter="url(#bl1)"/>
<rect x="198.5" y="519.2" width="26.5" height="12.0" rx="2.5" fill="#353535" opacity="1.00" filter="url(#bl1)"/>
<rect x="199.2" y="534.0" width="25.8" height="15.5" rx="2.5" fill="#333333" opacity="1.00" filter="url(#bl1)"/>
<rect x="230.0" y="508.8" width="24.0" height="3.0" rx="0.9" fill="#8a8a8a" opacity="1.00" filter="url(#bl1)"/>
<path d="M229.3 519.8 Q242.2 515.8 255.0 519.8 L255.0 525.2 Q242.2 521.2 229.3 525.2 Z" fill="#3d3d3d" opacity="1.00" filter="url(#bl1)"/>
<rect x="231.0" y="542.0" width="22.0" height="3.5" rx="1.1" fill="#9c9c9c" opacity="1.00" filter="url(#bl1)"/>
<rect x="274.8" y="507.1" width="10.2" height="3.0" rx="0.9" fill="#666666" opacity="1.00" filter="url(#bl1)"/>
<path d="M262 519 Q270 517.5 283.5 515.5 L283.5 521.5 Q272 527.5 262 527.5 Z" fill="#2c2c2c" filter="url(#bl1)"/>
<rect x="264.0" y="539.0" width="21.0" height="5.0" rx="1.5" fill="#858585" opacity="1.00" filter="url(#bl1)"/>
<rect x="276.0" y="540.0" width="9.0" height="4.0" rx="1.2" fill="#555555" opacity="1.00" filter="url(#bl1)"/>
<rect x="295.4" y="507.1" width="22.6" height="3.0" rx="0.9" fill="#777777" opacity="1.00" filter="url(#bl1)"/>
<path d="M295.4 518.5 Q302 523 321.2 522 L321.2 527.5 Q305 528.5 295.4 525 Z" fill="#2e2e2e" filter="url(#bl1)"/>
<ellipse cx="323.5" cy="525.0" rx="1.8" ry="2.5" fill="#3a3a3a" opacity="1.00" filter="url(#bl1)"/>
<rect x="296.0" y="540.0" width="24.0" height="3.0" rx="0.9" fill="#a8a8a8" opacity="1.00" filter="url(#bl1)"/>
<rect x="326.0" y="539.2" width="24.0" height="4.0" rx="1.2" fill="#a0a0a0" opacity="1.00" filter="url(#bl1)"/>
<rect x="336.6" y="506.0" width="12.4" height="4.0" rx="1.2" fill="#707070" opacity="1.00" filter="url(#bl1)"/>
<ellipse cx="350.5" cy="518.0" rx="1.5" ry="4.5" fill="#444444" opacity="1.00" filter="url(#bl1)"/>
<ellipse cx="345.0" cy="507.5" rx="3.0" ry="2.0" fill="#555555" opacity="1.00" filter="url(#bl1)"/>
</g>
<rect x="100.8" y="563.1" width="256.8" height="31.2" fill="#b0b0b0"/>
<clipPath id="cBa"><rect x="100.8" y="563.1" width="256.8" height="31.2"/></clipPath>
<g clip-path="url(#cBa)">
<rect x="106.6" y="575.7" width="24.8" height="8.0" rx="2.4" fill="#3c3c3c" opacity="1.00" filter="url(#bl1)"/>
<rect x="141.3" y="578.5" width="19.9" height="6.5" rx="1.9" fill="#1c1c1c" opacity="1.00" filter="url(#bl1)"/>
<rect x="175.3" y="577.1" width="19.8" height="7.0" rx="2.1" fill="#2a2a2a" opacity="1.00" filter="url(#bl1)"/>
<rect x="202.5" y="577.1" width="24.9" height="7.0" rx="2.1" fill="#303030" opacity="1.00" filter="url(#bl1)"/>
<rect x="236.5" y="575.5" width="20.9" height="8.0" rx="2.4" fill="#0f0f0f" opacity="1.00" filter="url(#bl1)"/>
<rect x="267.0" y="575.5" width="22.0" height="7.0" rx="2.1" fill="#353535" opacity="1.00" filter="url(#bl1)"/>
<rect x="298.5" y="574.8" width="21.0" height="7.0" rx="2.1" fill="#2c2c2c" opacity="1.00" filter="url(#bl1)"/>
<rect x="331.0" y="573.0" width="21.0" height="7.0" rx="2.1" fill="#363636" opacity="1.00" filter="url(#bl1)"/>
<ellipse cx="190.0" cy="580.6" rx="5.0" ry="4.0" fill="#000" opacity="1.00" filter="url(#bl1)"/>
<ellipse cx="221.0" cy="580.8" rx="5.0" ry="3.5" fill="#111" opacity="1.00" filter="url(#bl1)"/>
</g>
<linearGradient id="gC" x1="0" x2="1" y1="0" y2="0.08"><stop offset="0" stop-color="#686868"/><stop offset="0.2" stop-color="#6c6c6c"/><stop offset="0.245" stop-color="#8a8a8a"/><stop offset="0.3" stop-color="#a2a2a2"/><stop offset="1" stop-color="#a8a8a8"/></linearGradient>
<rect x="511.2" y="502.3" width="255.6" height="50.7" fill="url(#gC)"/>
<clipPath id="cC"><rect x="511.2" y="502.3" width="255.6" height="50.7"/></clipPath>
<g clip-path="url(#cC)">
<rect x="516.0" y="510.0" width="30.0" height="5.0" rx="1.5" fill="#555" opacity="0.60" filter="url(#bl1)"/>
<rect x="552.0" y="509.5" width="24.0" height="7.0" rx="2.1" fill="#4a4a4a" opacity="0.70" filter="url(#bl1)"/>
<rect x="552.0" y="519.0" width="24.0" height="6.0" rx="1.8" fill="#555" opacity="0.60" filter="url(#bl1)"/>
<rect x="585.0" y="510.2" width="23.0" height="4.0" rx="1.2" fill="#727272" opacity="0.90" filter="url(#bl1)"/>
<rect x="585.0" y="518.6" width="23.0" height="3.5" rx="1.1" fill="#7a7a7a" opacity="0.80" filter="url(#bl1)"/>
<rect x="584.4" y="537.0" width="23.4" height="3.5" rx="1.1" fill="#6c6c6c" opacity="0.95" filter="url(#bl1)"/>
<rect x="615.0" y="510.2" width="25.4" height="4.0" rx="1.2" fill="#727272" opacity="0.90" filter="url(#bl1)"/>
<rect x="615.0" y="518.6" width="25.4" height="3.5" rx="1.1" fill="#7a7a7a" opacity="0.80" filter="url(#bl1)"/>
<rect x="615.0" y="536.5" width="25.4" height="3.5" rx="1.1" fill="#6c6c6c" opacity="0.95" filter="url(#bl1)"/>
<rect x="535.5" y="540.0" width="38.5" height="3.5" rx="1.1" fill="#555" opacity="0.80" filter="url(#bl1)"/>
<rect x="538.0" y="539.7" width="7.0" height="4.0" rx="1.2" fill="#333" opacity="0.90" filter="url(#bl1)"/>
<rect x="646.0" y="509.8" width="24.0" height="2.5" rx="0.8" fill="#8c8c8c" opacity="0.70" filter="url(#bl1)"/>
<rect x="675.0" y="507.5" width="23.0" height="3.0" rx="0.9" fill="#8c8c8c" opacity="0.80" filter="url(#bl1)"/>
<rect x="702.0" y="507.5" width="25.0" height="3.0" rx="0.9" fill="#8c8c8c" opacity="0.80" filter="url(#bl1)"/>
<rect x="646.0" y="536.0" width="120.0" height="2.0" rx="0.6" fill="#909090" opacity="0.70" filter="url(#bl1)"/>
</g>
<rect x="511.2" y="560.8" width="254.8" height="32.9" fill="#b0b0b0"/>
<clipPath id="cCa"><rect x="511.2" y="560.8" width="254.8" height="32.9"/></clipPath>
<g clip-path="url(#cCa)">
<path d="M516.6 572.5 Q532.6 567.5 548.6 572.5 L548.6 578.5 Q532.6 573.5 516.6 578.5 Z" fill="#222" opacity="1.00" filter="url(#bl1)"/>
<rect x="554.9" y="569.5" width="28.5" height="13.0" rx="2.5" fill="#0c0c0c" opacity="1.00" filter="url(#bl1)"/>
<rect x="584.3" y="571.0" width="15.7" height="7.0" rx="2.1" fill="#1a1a1a" opacity="1.00" filter="url(#bl1)"/>
<rect x="600.0" y="573.5" width="11.9" height="5.0" rx="1.5" fill="#2a2a2a" opacity="1.00" filter="url(#bl1)"/>
<rect x="615.4" y="572.0" width="26.6" height="8.0" rx="2.4" fill="#141414" opacity="1.00" filter="url(#bl1)"/>
<path d="M644.4 574.5 Q656.7 571.5 669.0 574.5 L669.0 581.5 Q656.7 578.5 644.4 581.5 Z" fill="#1a1a1a" opacity="1.00" filter="url(#bl1)"/>
<rect x="672.7" y="576.0" width="24.3" height="8.0" rx="2.4" fill="#0e0e0e" opacity="1.00" filter="url(#bl1)"/>
<rect x="702.8" y="576.0" width="24.5" height="7.0" rx="2.1" fill="#151515" opacity="1.00" filter="url(#bl1)"/>
<rect x="731.0" y="580.0" width="26.4" height="5.0" rx="1.5" fill="#2a2a2a" opacity="1.00" filter="url(#bl1)"/>
</g>
<text transform="translate(57.1,407.7) scale(1.22,1)" font-size="15.2" text-anchor="middle">B</text>
<text x="36.0" y="437.0" font-size="14.7" font-weight="bold" font-style="normal" text-anchor="middle" >Minutes in</text>
<text x="36.0" y="453.8" font-size="14.7" font-weight="bold" font-style="normal" text-anchor="middle" >α factor</text>
<text x="36.0" y="471.0" font-size="14.7" font-weight="bold" font-style="normal" text-anchor="middle" >block and</text>
<text x="36.0" y="489.2" font-size="14.7" font-weight="bold" font-style="normal" text-anchor="middle" >0.2%MMS</text>
<text transform="translate(445.8,418.5) scale(1.08,1)" font-size="16.3" text-anchor="middle">C</text>
<text x="446.5" y="438.3" font-size="14.7" font-weight="bold" font-style="normal" text-anchor="middle" >Minutes in</text>
<text x="446.5" y="456.0" font-size="14.7" font-weight="bold" font-style="normal" text-anchor="middle" >α factor</text>
<text x="446.5" y="472.6" font-size="14.7" font-weight="bold" font-style="normal" text-anchor="middle" >block and</text>
<text x="446.5" y="491.7" font-size="14.7" font-weight="bold" font-style="normal" text-anchor="middle" >0.2%MMS</text>
<path d="M78.5 484.7 L103.9 484.7" stroke="#000" stroke-width="4.2"/><path d="M102.9 480.1 L108.5 484.7 L102.9 489.3 Z" fill="#000"/>
<path d="M489.0 486.8 L513.9 486.8" stroke="#000" stroke-width="4.2"/><path d="M512.9 482.2 L518.5 486.8 L512.9 491.4 Z" fill="#000"/>
<text x="163.4" y="453.5" font-size="14.5" font-weight="bold" font-style="normal" text-anchor="middle" >WT</text>
<text x="292.7" y="450.5" font-size="14.7" font-weight="bold" font-style="italic" text-anchor="middle" >chl1</text>
<line x1="102.8" y1="466.7" x2="226.8" y2="466.7" stroke="#222" stroke-width="1.3"/>
<line x1="233.2" y1="466.7" x2="357.6" y2="466.7" stroke="#222" stroke-width="1.3"/>
<text x="579.3" y="454.7" font-size="14.7" font-weight="bold" font-style="italic" text-anchor="middle" >rad24</text>
<text x="700.1" y="451.8" font-size="14.7" font-weight="bold" font-style="italic" text-anchor="middle" >rad24chl1</text>
<line x1="513.8" y1="467.6" x2="636.5" y2="467.6" stroke="#222" stroke-width="1.3"/>
<line x1="644.5" y1="467.6" x2="768.2" y2="467.6" stroke="#222" stroke-width="1.3"/>
<text x="109.7" y="486.6" font-size="15.0" font-weight="bold" font-style="normal" text-anchor="start" >0’</text>
<text x="136.4" y="486.6" font-size="15.0" font-weight="bold" font-style="normal" text-anchor="start" >10’</text>
<text x="171.3" y="486.6" font-size="15.0" font-weight="bold" font-style="normal" text-anchor="start" >20’</text>
<text x="208.0" y="486.6" font-size="15.0" font-weight="bold" font-style="normal" text-anchor="start" >30’</text>
<text x="237.2" y="486.6" font-size="15.0" font-weight="bold" font-style="normal" text-anchor="start" >0’</text>
<text x="268.5" y="486.6" font-size="15.0" font-weight="bold" font-style="normal" text-anchor="start" >10’</text>
<text x="300.3" y="486.6" font-size="15.0" font-weight="bold" font-style="normal" text-anchor="start" >20’</text>
<text x="331.7" y="486.6" font-size="15.0" font-weight="bold" font-style="normal" text-anchor="start" >30’</text>
<text x="519.7" y="487.8" font-size="15.0" font-weight="bold" font-style="normal" text-anchor="start" >0’</text>
<text x="547.0" y="487.8" font-size="15.0" font-weight="bold" font-style="normal" text-anchor="start" >10’</text>
<text x="582.7" y="487.8" font-size="15.0" font-weight="bold" font-style="normal" text-anchor="start" >20’</text>
<text x="618.0" y="487.8" font-size="15.0" font-weight="bold" font-style="normal" text-anchor="start" >30’</text>
<text x="648.2" y="487.8" font-size="15.0" font-weight="bold" font-style="normal" text-anchor="start" >0’</text>
<text x="679.7" y="487.8" font-size="15.0" font-weight="bold" font-style="normal" text-anchor="start" >10’</text>
<text x="710.0" y="487.8" font-size="15.0" font-weight="bold" font-style="normal" text-anchor="start" >20’</text>
<text x="742.7" y="487.8" font-size="15.0" font-weight="bold" font-style="normal" text-anchor="start" >30’</text>
<text x="27.0" y="536.2" font-size="14.8" font-weight="bold" font-style="normal" text-anchor="start" >Rad53p</text>
<text x="26.4" y="578.6" font-size="14.6" font-weight="bold" font-style="normal" text-anchor="start" >Beta actin</text>
<text x="437.3" y="530.7" font-size="14.8" font-weight="bold" font-style="normal" text-anchor="start" >Rad53p</text>
<text x="436.8" y="579.6" font-size="14.6" font-weight="bold" font-style="normal" text-anchor="start" >Beta actin</text>
<path d="M93.9 510.2 L86.9 510.2 L86.9 552.2 L93.9 552.2" fill="none" stroke="#5a8fd0" stroke-width="2.6"/>
<path d="M362.8 509.6 L369.8 509.6 L369.8 551.9 L362.8 551.9" fill="none" stroke="#5a8fd0" stroke-width="2.6"/>
<path d="M503.6 504.3 L496.6 504.3 L496.6 546.3 L503.6 546.3" fill="none" stroke="#5a8fd0" stroke-width="2.6"/>
<path d="M772.6 504.3 L779.6 504.3 L779.6 546.3 L772.6 546.3" fill="none" stroke="#5a8fd0" stroke-width="2.6"/>
<text transform="translate(109.1,654.7) scale(1.22,1)" font-size="11.8" text-anchor="middle">D</text>
<line x1="176.1" y1="712.1" x2="176.1" y2="757.0" stroke="#444" stroke-width="1.1"/>
<line x1="170.9" y1="712.1" x2="181.3" y2="712.1" stroke="#444" stroke-width="1.2"/>
<rect x="166.4" y="758.3" width="19.4" height="107.7" fill="#000" stroke="#000" stroke-width="2.5"/>
<line x1="197.5" y1="702.9" x2="197.5" y2="716.2" stroke="#444" stroke-width="1.1"/>
<line x1="192.3" y1="702.9" x2="202.7" y2="702.9" stroke="#444" stroke-width="1.2"/>
<rect x="187.8" y="717.5" width="19.4" height="148.5" fill="#5f5f5f" stroke="#000" stroke-width="2.5"/>
<line x1="218.9" y1="694.6" x2="218.9" y2="710.4" stroke="#444" stroke-width="1.1"/>
<line x1="213.7" y1="694.6" x2="224.1" y2="694.6" stroke="#444" stroke-width="1.2"/>
<rect x="209.2" y="711.7" width="19.4" height="154.3" fill="#cfcfcf" stroke="#000" stroke-width="2.5"/>
<line x1="240.3" y1="668.8" x2="240.3" y2="685.5" stroke="#444" stroke-width="1.1"/>
<line x1="235.1" y1="668.8" x2="245.5" y2="668.8" stroke="#444" stroke-width="1.2"/>
<rect x="230.6" y="686.7" width="19.4" height="179.3" fill="#fff" stroke="#000" stroke-width="2.5"/>
<line x1="283.6" y1="831.1" x2="283.6" y2="839.4" stroke="#444" stroke-width="1.1"/>
<line x1="278.4" y1="831.1" x2="288.8" y2="831.1" stroke="#444" stroke-width="1.2"/>
<rect x="273.9" y="840.6" width="19.4" height="25.4" fill="#000" stroke="#000" stroke-width="2.5"/>
<line x1="305.0" y1="792.8" x2="305.0" y2="803.2" stroke="#444" stroke-width="1.1"/>
<line x1="299.8" y1="792.8" x2="310.2" y2="792.8" stroke="#444" stroke-width="1.2"/>
<rect x="295.3" y="804.4" width="19.4" height="61.6" fill="#5f5f5f" stroke="#000" stroke-width="2.5"/>
<line x1="326.4" y1="779.5" x2="326.4" y2="798.6" stroke="#444" stroke-width="1.1"/>
<line x1="321.2" y1="779.5" x2="331.6" y2="779.5" stroke="#444" stroke-width="1.2"/>
<rect x="316.7" y="799.9" width="19.4" height="66.1" fill="#cfcfcf" stroke="#000" stroke-width="2.5"/>
<line x1="347.8" y1="787.8" x2="347.8" y2="793.1" stroke="#444" stroke-width="1.1"/>
<line x1="342.6" y1="787.8" x2="353.0" y2="787.8" stroke="#444" stroke-width="1.2"/>
<rect x="338.1" y="794.4" width="19.4" height="71.6" fill="#fff" stroke="#000" stroke-width="2.5"/>
<line x1="390.2" y1="816.9" x2="390.2" y2="838.1" stroke="#444" stroke-width="1.1"/>
<line x1="385.0" y1="816.9" x2="395.4" y2="816.9" stroke="#444" stroke-width="1.2"/>
<rect x="380.5" y="839.4" width="19.4" height="26.6" fill="#000" stroke="#000" stroke-width="2.5"/>
<line x1="411.6" y1="808.6" x2="411.6" y2="831.9" stroke="#444" stroke-width="1.1"/>
<line x1="406.4" y1="808.6" x2="416.8" y2="808.6" stroke="#444" stroke-width="1.2"/>
<rect x="401.9" y="833.1" width="19.4" height="32.9" fill="#5f5f5f" stroke="#000" stroke-width="2.5"/>
<line x1="433.0" y1="800.3" x2="433.0" y2="804.4" stroke="#444" stroke-width="1.1"/>
<line x1="427.8" y1="800.3" x2="438.2" y2="800.3" stroke="#444" stroke-width="1.2"/>
<rect x="423.3" y="805.7" width="19.4" height="60.3" fill="#cfcfcf" stroke="#000" stroke-width="2.5"/>
<line x1="454.4" y1="796.1" x2="454.4" y2="801.1" stroke="#444" stroke-width="1.1"/>
<line x1="449.2" y1="796.1" x2="459.6" y2="796.1" stroke="#444" stroke-width="1.2"/>
<rect x="444.7" y="802.4" width="19.4" height="63.6" fill="#fff" stroke="#000" stroke-width="2.5"/>
<rect x="488.0" y="848.1" width="19.4" height="17.9" fill="#000" stroke="#000" stroke-width="2.5"/>
<rect x="509.4" y="843.1" width="19.4" height="22.9" fill="#5f5f5f" stroke="#000" stroke-width="2.5"/>
<rect x="530.8" y="836.5" width="19.4" height="29.5" fill="#cfcfcf" stroke="#000" stroke-width="2.5"/>
<rect x="552.2" y="838.1" width="19.4" height="27.9" fill="#fff" stroke="#000" stroke-width="2.5"/>
<line x1="155.2" y1="656.5" x2="155.2" y2="867.2" stroke="#000" stroke-width="2.6"/>
<line x1="154" y1="866.1" x2="584.8" y2="866.1" stroke="#000" stroke-width="2.5"/>
<line x1="149.5" y1="866.0" x2="155" y2="866.0" stroke="#000" stroke-width="2.2"/>
<text x="144.2" y="871.0" font-size="14.7" font-weight="bold" font-style="normal" text-anchor="end" >0.0</text>
<line x1="149.5" y1="824.4" x2="155" y2="824.4" stroke="#000" stroke-width="2.2"/>
<text x="144.2" y="829.4" font-size="14.7" font-weight="bold" font-style="normal" text-anchor="end" >0.5</text>
<line x1="149.5" y1="782.8" x2="155" y2="782.8" stroke="#000" stroke-width="2.2"/>
<text x="144.2" y="787.8" font-size="14.7" font-weight="bold" font-style="normal" text-anchor="end" >1.0</text>
<line x1="149.5" y1="741.2" x2="155" y2="741.2" stroke="#000" stroke-width="2.2"/>
<text x="144.2" y="746.2" font-size="14.7" font-weight="bold" font-style="normal" text-anchor="end" >1.5</text>
<line x1="149.5" y1="699.6" x2="155" y2="699.6" stroke="#000" stroke-width="2.2"/>
<text x="144.2" y="704.6" font-size="14.7" font-weight="bold" font-style="normal" text-anchor="end" >2.0</text>
<line x1="149.5" y1="658.0" x2="155" y2="658.0" stroke="#000" stroke-width="2.2"/>
<text x="144.2" y="663.0" font-size="14.7" font-weight="bold" font-style="normal" text-anchor="end" >2.5</text>
<text transform="translate(115.8,761.4) rotate(-90)" font-size="15.4" font-weight="bold" text-anchor="middle">Relative Rad53p expression</text>
<text x="208.3" y="888.0" font-size="15.0" font-weight="normal" font-style="italic" text-anchor="middle" fill="#222">WT</text>
<text x="314.2" y="888.0" font-size="15.0" font-weight="normal" font-style="italic" text-anchor="middle" fill="#222">chl1</text>
<text x="422.5" y="888.0" font-size="15.0" font-weight="normal" font-style="italic" text-anchor="middle" fill="#222">rad24</text>
<text x="529.5" y="888.0" font-size="15.0" font-weight="normal" font-style="italic" text-anchor="middle" fill="#222">rad24chl1</text>
<path d="M197.2 647 L197.2 638.2 L305.3 638.2 L305.3 647" fill="none" stroke="#000" stroke-width="1.6"/>
<path d="M218.8 670.2 L218.8 661 L326 661 L326 670.2" fill="none" stroke="#000" stroke-width="1.6"/>
<text x="252.0" y="634.6" font-size="22.0" font-weight="bold" font-style="normal" text-anchor="middle" >*</text>
<text x="272.9" y="657.6" font-size="22.0" font-weight="bold" font-style="normal" text-anchor="middle" >*</text>
<rect x="417.0" y="675.3" width="18.2" height="7.0" fill="#000" stroke="#000" stroke-width="2.2"/>
<text x="446.8" y="682.8" font-size="14.7" font-weight="normal" font-style="normal" text-anchor="start" >0 minutes</text>
<rect x="417.0" y="694.7" width="18.2" height="7.4" fill="#5f5f5f" stroke="#000" stroke-width="2.2"/>
<text x="446.8" y="702.7" font-size="14.7" font-weight="normal" font-style="normal" text-anchor="start" >10 minutes</text>
<rect x="417.0" y="713.0" width="18.2" height="6.9" fill="#cfcfcf" stroke="#000" stroke-width="2.2"/>
<text x="446.8" y="720.7" font-size="14.7" font-weight="normal" font-style="normal" text-anchor="start" >20 minutes</text>
<rect x="417.0" y="728.3" width="18.2" height="6.3" fill="#fff" stroke="#000" stroke-width="2.2"/>
<text x="446.8" y="735.7" font-size="14.7" font-weight="normal" font-style="normal" text-anchor="start" >30 minutes</text>
</svg>
</body></html>
